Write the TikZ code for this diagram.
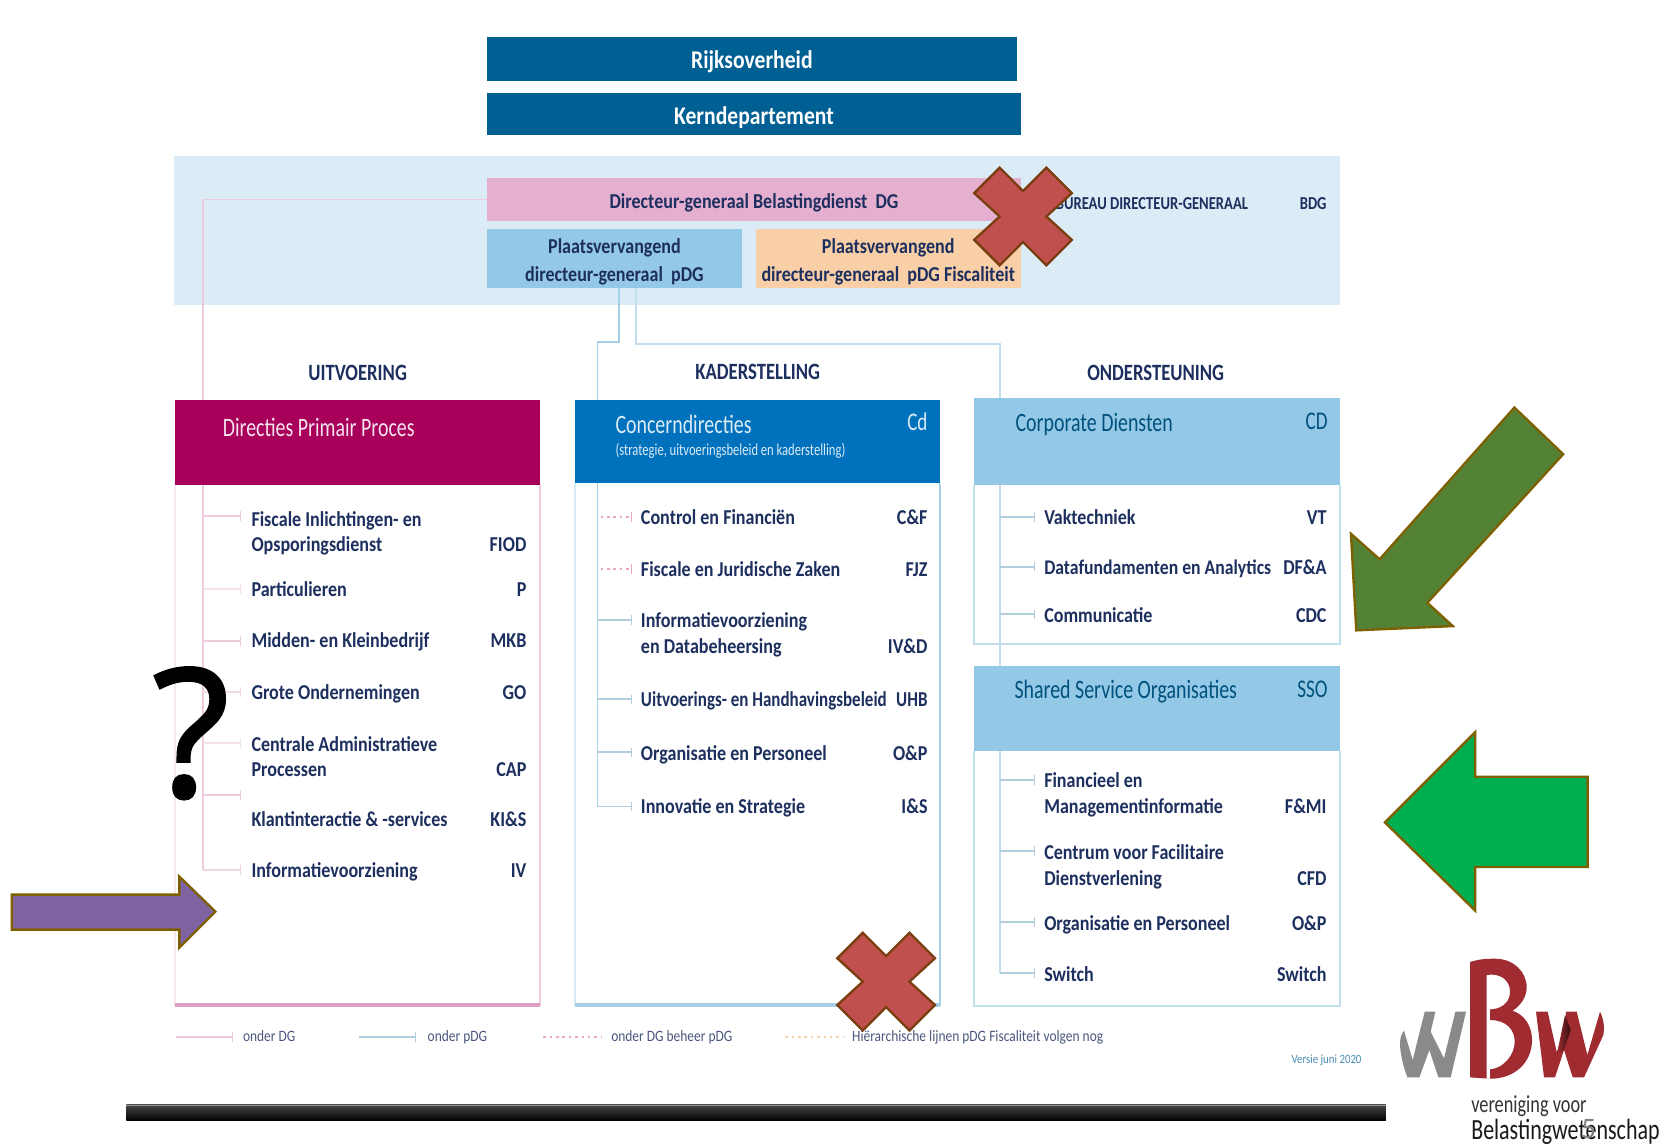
\documentclass[tikz,border=0pt]{standalone}
\usepackage{fontspec}
\setmainfont{Carlito}
\newfontfamily\nb[FakeStretch=0.85]{Carlito}
\newfontfamily\nt[FakeStretch=0.80]{Carlito}
\newfontfamily\nh[FakeStretch=0.75]{Carlito}
\newfontfamily\qf[FakeBold=1.6]{Open Sans}
\usetikzlibrary{calc,arrows.meta}
\definecolor{navy}{HTML}{1D2F5E}
\definecolor{topblue}{HTML}{005F93}
\definecolor{band}{HTML}{DBECF6}
\definecolor{pinkb}{HTML}{E5AFCF}
\definecolor{pdgb}{HTML}{93C8E6}
\definecolor{orab}{HTML}{F8CFA6}
\definecolor{rasp}{HTML}{A8005A}
\definecolor{conc}{HTML}{0071BD}
\definecolor{pinkl}{HTML}{ECCBDC}
\definecolor{pinkd}{HTML}{EBA6C0}
\definecolor{bluel}{HTML}{A6CFE8}
\definecolor{paleb}{HTML}{C3DFEE}
\definecolor{tickb}{HTML}{B2CEDC}
\definecolor{oral}{HTML}{F5D2AE}
\definecolor{xred}{HTML}{C0504D}
\definecolor{brownb}{HTML}{7A3E10}
\definecolor{goldb}{HTML}{7F6000}
\definecolor{bwred}{HTML}{A02C32}
\definecolor{olive}{HTML}{548235}
\definecolor{green2}{HTML}{00B050}
\definecolor{purp}{HTML}{8064A2}
\definecolor{bwgray}{HTML}{8A8A8C}
\newcommand{\boxe}[6]{%
  \pgfmathsetmacro{\bw}{(#4-#2)*0.5}\pgfmathsetmacro{\bh}{(#5-#3)*0.5}
  \node[boxs,fill=#6,minimum width=\bw pt,minimum height=\bh pt] (#1) at ({(#2+#4)/2},{(#3+#5)/2}) {};}
\newcommand{\boxn}[7]{%
  \boxe{#1}{#2}{#3}{#4}{#5}{#6}
  \node[boxs] (#1t) at ($(#1)+(0,3)$) {#7};}
\newcommand{\lab}[4]{\node[labs] (#1) at (#2,#3) {#4};}
\newcommand{\code}[4]{\node[codes] (#1) at (#2,#3) {#4};}
\newcommand{\xshape}[3]{%
  \draw[draw=brownb,line width=1.1pt,line join=miter,fill=xred,shift={(#2,#3)}] (-46,-22) -- (-22,-46) -- (0,-24) -- (22,-46) -- (46,-22) -- (22,0) -- (46,22) -- (22,46) -- (0,24) -- (-22,46) -- (-46,22) -- (-22,0) -- cycle;
  \coordinate (#1) at (#2,#3);}
\tikzset{
  boxs/.style={inner sep=0pt,outer sep=0pt,align=center,text=navy,font=\nb\bfseries\fontsize{10}{13}\selectfont},
  labs/.style={anchor=west,inner sep=0pt,outer sep=0pt,text=navy,align=left,text height=7.5pt,text depth=0.5pt,font=\nb\bfseries\fontsize{10}{12}\selectfont},
  codes/.style={anchor=east,inner sep=0pt,outer sep=0pt,text=navy,text height=7.5pt,text depth=0.5pt,font=\nb\bfseries\fontsize{10}{12}\selectfont},
  heads/.style={anchor=west,inner sep=0pt,outer sep=0pt,font=\nh\fontsize{12.5}{14}\selectfont},
  titles/.style={inner sep=0pt,outer sep=0pt,text=navy,font=\nt\bfseries\fontsize{11}{13}\selectfont},
  legs/.style={anchor=west,inner sep=0pt,outer sep=0pt,text=navy!80,text height=5.5pt,text depth=1.5pt,font=\nb\fontsize{7.45}{9}\selectfont},
  shapeline/.style={draw=goldb,line width=1.1pt,line join=miter},
  pinkline/.style={draw=pinkl,line width=0.8pt},
  blueline/.style={draw=bluel,line width=0.9pt},
  paleline/.style={draw=paleb,line width=0.9pt},
  endbar/.style={-{Bar[width=4.5pt,line width=0.5pt]}},
  pinkdots/.style={draw=pinkd,line width=0.9pt,dash pattern=on 1.2pt off 1.8pt},
  oradots/.style={draw=oral,line width=0.9pt,dash pattern=on 1.2pt off 1.8pt},
}
\begin{document}
\begin{tikzpicture}[x=0.5pt,y=-0.5pt]
\useasboundingbox (0,0) rectangle (1568,1080);
\fill[white] (0,0) rectangle (1568,1080);

% band and top boxes
\fill[band] (164,147) rectangle (1263,287);
\boxn{rijk}{459}{35}{958}{76}{topblue}{\textcolor{white}{\fontsize{12}{14}\selectfont Rijksoverheid}}
\boxn{kern}{459}{88}{962}{127}{topblue}{\textcolor{white}{\fontsize{12}{14}\selectfont Kerndepartement}}
\boxn{dg}{459}{168}{962}{208}{pinkb}{Directeur-generaal Belastingdienst\ \ DG}
\boxn{pdg}{459}{216}{699}{271}{pdgb}{Plaatsvervangend\\directeur-generaal\ \ pDG}
\boxn{pdgf}{712}{216}{962}{271}{orab}{Plaatsvervangend\\directeur-generaal\ \ pDG Fiscaliteit}
\node[codes,font=\nt\bfseries\fontsize{8.6}{10}\selectfont] (bureau) at (1176,190) {BUREAU DIRECTEUR-GENERAAL};
\node[codes,font=\nt\bfseries\fontsize{8.6}{10}\selectfont] (bdg) at (1250,190) {BDG};

% titles
\node[titles] (t1) at (337,351) {UITVOERING};
\node[titles] (t2) at (714,350) {KADERSTELLING};
\node[titles] (t3) at (1089,351) {ONDERSTEUNING};

% panel outlines
\draw[draw=pinkl!45,line width=0.7pt] (165,457) -- (165,948);
\draw[pinkl,line width=0.9pt] (509,457) -- (509,948);
\draw[draw=paleb!70,line width=0.7pt] (542,455) -- (542,948);
\draw[bluel,line width=0.9pt] (886,455) -- (886,948);
\draw[paleb,line width=0.8pt] (918,457) |- (1263,607) -- (1263,457);
\draw[paleb,line width=0.8pt] (918,708) |- (1263,948) -- (1263,708);
\draw[pinkb!90!rasp,line width=1.8pt] (165,947) -- (509,947);
\draw[bluel,line width=1.6pt] (542,947) -- (886,947);

% bus ends and ticks
\coordinate (pinkend) at (191,820);
\coordinate (bluem) at (563,760);
\coordinate (bluer) at (942,917);
\coordinate (pdga) at (583,271);
\coordinate (pdgc) at (599,271);
\draw[pinkline] (dg.west) -| (pinkend);
\draw[blueline] (pdga) |- (563,322) -- (bluem);
\draw[paleline] (pdgc) |- (942,324) -- (bluer);
\foreach \y/\c in {486/100,555/60,604/100,652/70,700/60,749/100,820/80}{
  \coordinate (ls\y) at (191,\y); \coordinate (le\y) at (227,\y);
  \draw[pinkl!\c!white,line width=0.8pt,endbar] (ls\y) -- (le\y);}
\foreach \y in {487,536}{
  \coordinate (ms\y) at (566,\y); \coordinate (me\y) at (596,\y);
  \draw[pinkdots,endbar] (ms\y) -- (me\y);}
\foreach \y in {584,659,709,760}{
  \coordinate (ms\y) at (563,\y); \coordinate (me\y) at (596,\y);
  \draw[draw=tickb,line width=0.9pt,endbar] (ms\y) -- (me\y);}
\foreach \y in {487,534,579,735,802,869,917}{
  \coordinate (rs\y) at (942,\y); \coordinate (re\y) at (975,\y);
  \draw[draw=tickb,line width=0.9pt,endbar] (rs\y) -- (re\y);}

% panel headers
\boxe{hp}{165}{377}{509}{457}{rasp}
\boxe{hc}{542}{377}{886}{455}{conc}
\boxe{hd}{918}{375}{1263}{457}{pdgb}
\boxe{hs}{918}{628}{1263}{708}{pdgb}
\node[heads,text=pinkb!35] (hpt) at (210,403) {Directies Primair Proces};
\node[heads,text=band] (hct) at (580,400) {Concerndirecties};
\node[codes,text=band,font=\nh\fontsize{12}{13}\selectfont] (hcc) at (874,399) {Cd};
\node[heads,text=band,font=\nh\fontsize{7.9}{9}\selectfont] (hcs) at (580,425) {(strategie, uitvoeringsbeleid en kaderstelling)};
\node[heads,text=topblue!85!black] (hdt) at (957,400) {Corporate Diensten};
\node[codes,text=topblue!85!black,font=\nh\fontsize{12}{13}\selectfont] (hdc) at (1251,398) {CD};
\node[heads,text=topblue!85!black] (hst) at (956,652) {Shared Service Organisaties};
\node[codes,text=topblue!85!black,font=\nh\fontsize{12}{13}\selectfont] (hsc) at (1251,650) {SSO};

% left list
\lab{a1}{237}{489}{Fiscale Inlichtingen- en}
\lab{a1b}{237}{513}{Opsporingsdienst}\code{a1c}{496}{513}{FIOD}
\lab{a2}{237}{555}{Particulieren}\code{a2c}{496}{555}{P}
\lab{a3}{237}{603}{Midden- en Kleinbedrijf}\code{a3c}{496}{603}{MKB}
\lab{a4}{237}{652}{Grote Ondernemingen}\code{a4c}{496}{652}{GO}
\lab{a5}{237}{701}{Centrale Administratieve}
\lab{a5b}{237}{725}{Processen}\code{a5c}{496}{725}{CAP}
\lab{a6}{237}{772}{Klantinteractie \& -services}\code{a6c}{496}{772}{KI\&S}
\lab{a7}{237}{820}{Informatievoorziening}\code{a7c}{496}{820}{IV}

% middle list
\lab{b1}{604}{487}{Control en Financiën}\code{b1c}{874}{487}{C\&F}
\lab{b2}{604}{536}{Fiscale en Juridische Zaken}\code{b2c}{874}{536}{FJZ}
\lab{b3}{604}{584}{Informatievoorziening}
\lab{b3b}{604}{609}{en Databeheersing}\code{b3c}{874}{609}{IV\&D}
\lab{b4}{604}{659}{\nt\bfseries Uitvoerings- en Handhavingsbeleid}\code{b4c}{874}{659}{\nt\bfseries UHB}
\lab{b5}{604}{710}{Organisatie en Personeel}\code{b5c}{874}{710}{O\&P}
\lab{b6}{604}{760}{Innovatie en Strategie}\code{b6c}{874}{760}{I\&S}

% right lists
\lab{c1}{984}{487}{Vaktechniek}\code{c1c}{1250}{487}{VT}
\lab{c2}{984}{534}{\fontsize{9.8}{12}\selectfont Datafundamenten en Analytics}\code{c2c}{1250}{534}{DF\&A}
\lab{c3}{984}{580}{Communicatie}\code{c3c}{1250}{580}{CDC}
\lab{d1}{984}{735}{Financieel en}
\lab{d1b}{984}{760}{Managementinformatie}\code{d1c}{1250}{760}{F\&MI}
\lab{d2}{984}{803}{Centrum voor Facilitaire}
\lab{d2b}{984}{827}{Dienstverlening}\code{d2c}{1250}{827}{CFD}
\lab{d3}{984}{870}{Organisatie en Personeel}\code{d3c}{1250}{870}{O\&P}
\lab{d4}{984}{918}{Switch}\code{d4c}{1250}{918}{Switch}

% legend
\coordinate (l1a) at (166,977); \coordinate (l1b) at (220,977);
\coordinate (l2a) at (338,977); \coordinate (l2b) at (392,977);
\coordinate (l3a) at (512,977); \coordinate (l3b) at (567,977);
\coordinate (l4a) at (740,977); \coordinate (l4b) at (795,977);
\draw[pinkb!70,line width=0.9pt,endbar] (l1a) -- (l1b);
\draw[tickb,line width=0.9pt,endbar] (l2a) -- (l2b);
\draw[pinkdots] (l3a) -- (l3b);
\draw[oradots] (l4a) -- (l4b);
\node[legs] (m1) at (229,977) {onder DG};
\node[legs] (m2) at (403,977) {onder pDG};
\node[legs] (m3) at (576,977) {onder DG beheer pDG};
\node[legs] (m4) at (803,977) {Hiërarchische lijnen pDG Fiscaliteit volgen nog};
\node[legs,text=topblue!70,font=\nb\fontsize{6}{8}\selectfont] (m5) at (1217,998) {Versie juni 2020};

% bottom bar
\shade[top color=black!72,bottom color=black] (119,1041) rectangle (1306,1056);
\fill[black!40] (119,1041) rectangle (1306,1042.5);

% overlays
\xshape{x1}{964}{204}
\xshape{x2}{835}{925}
\draw[shapeline,fill=olive] (1427,384) -- (1473,428) -- (1345,568) -- (1369,590) -- (1278,594) -- (1273,503) -- (1300,527) -- cycle;
\draw[shapeline,fill=green2] (1305,775) -- (1390,690) -- (1390,732) -- (1496,732) -- (1496,817) -- (1390,817) -- (1390,858) -- cycle;
\draw[shapeline,fill=purp] (11,843) -- (169,843) -- (169,826) -- (203,859) -- (169,893) -- (169,876) -- (11,876) -- cycle;
\node[inner sep=0pt,font=\qf\fontsize{84}{90}\selectfont] (q) at (180,691) {?};

% logo
\begin{scope}[shift={(1300.4,885.8)},scale=0.3141]
\fill[bwgray] (60,310) .. controls (60,290) and (66,280) .. (72,272) -- (98,360) -- (134,215) -- (166,215) -- (152,275) -- (192,355) -- (226,215) -- (258,215) -- (212,412) -- (175,412) -- (148,330) -- (118,412) -- (82,412) .. controls (70,380) and (60,340) .. (60,310) -- cycle;
\fill[bwred,even odd rule] (270,66) .. controls (300,56) and (325,56) .. (345,56) .. controls (400,56) and (440,95) .. (440,142) .. controls (440,172) and (420,198) .. (398,212) .. controls (435,225) and (456,260) .. (456,300) .. controls (456,370) and (400,418) .. (328,416) -- (270,412) -- cycle
 (320,105) .. controls (360,98) and (390,120) .. (390,155) .. controls (390,190) and (360,208) .. (330,208) -- (330,240) .. controls (380,240) and (404,270) .. (404,305) .. controls (404,345) and (370,385) .. (330,388) -- (330,416) -- (320,416) -- cycle;
\fill[bwred] (468,215) -- (503,215) -- (531,340) -- (555,250) -- (558,215) -- (590,215) -- (622,345) -- (660,215) .. controls (672,240) and (674,265) .. (670,285) -- (612,412) -- (578,412) -- (552,330) -- (525,412) -- (492,412) -- cycle;
\shade[left color=bwred,right color=black!70!bwred] (531,340) -- (555,225) -- (572,270) -- (552,330) -- cycle;
\end{scope}
\node[anchor=west,inner sep=0pt,text=black!80,font=\nh\fontsize{11.5}{14}\selectfont] (v1) at (1386,1042) {vereniging voor};
\node[anchor=west,inner sep=0pt,text=black!90,font=\nh\fontsize{13.8}{16}\selectfont] (v2) at (1386,1067) {Belastingwetenschap};
\node[inner sep=0pt,text=gray,font=\fontsize{14}{16}\selectfont] (pg) at (1497,1064) {5};
\end{tikzpicture}
\end{document}
